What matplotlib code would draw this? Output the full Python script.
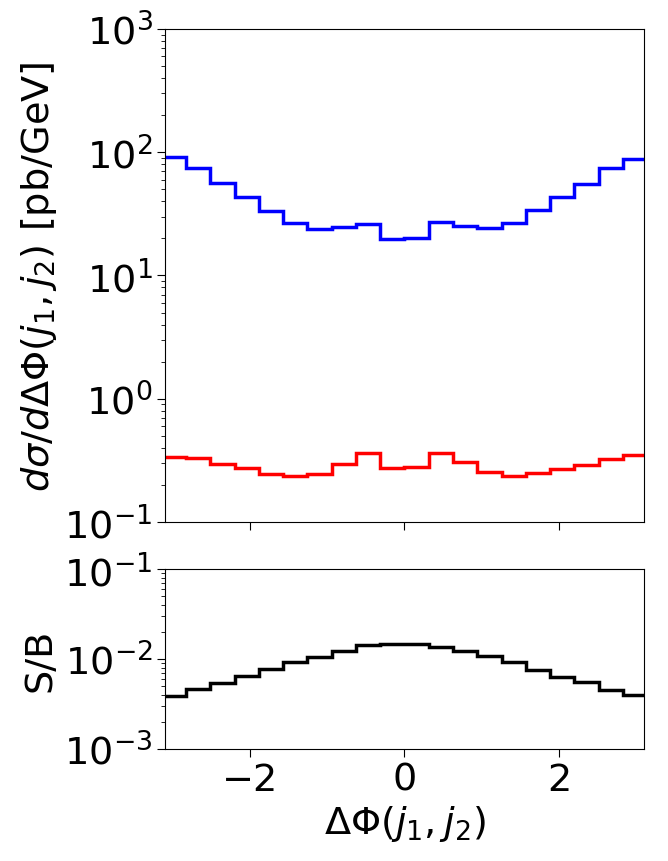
import numpy as np
import matplotlib
matplotlib.use("Agg")
import matplotlib.pyplot as plt

# bin edges in delta phi (20 bins over [-pi, pi])
edges = np.linspace(-np.pi, np.pi, 21)

# background (blue) and signal (red) cross sections, pb/GeV
background = [91.1, 74.2, 56.7, 43.6, 33.4, 26.7, 23.7, 24.9, 26.1, 19.9,
              20.2, 27.2, 25.3, 24.3, 26.9, 33.8, 43.6, 55.3, 74.2, 88.7]
signal = [0.337, 0.330, 0.293, 0.272, 0.246, 0.237, 0.245, 0.295, 0.363, 0.276,
          0.279, 0.363, 0.304, 0.253, 0.236, 0.251, 0.267, 0.292, 0.324, 0.349]
# signal over background ratio
s_over_b = [0.00392, 0.00464, 0.00537, 0.00641, 0.00768, 0.00919, 0.01062, 0.01219,
            0.01442, 0.01457, 0.01457, 0.01370, 0.01219, 0.01072, 0.00919, 0.00760,
            0.00636, 0.00555, 0.00453, 0.00401]

plt.rcParams['font.size'] = 27.5
plt.rcParams['xtick.major.size'] = 5.5
plt.rcParams['ytick.major.size'] = 5.5
plt.rcParams['ytick.minor.size'] = 3.0

fig = plt.figure(figsize=(6.68, 8.62), dpi=100)
ax_top = fig.add_axes([0.247, 0.3933, 0.717, 0.5719])
ax_bot = fig.add_axes([0.247, 0.1299, 0.717, 0.2088], sharex=ax_top)

ax_top.stairs(background, edges, color='blue', lw=2.5, baseline=None)
ax_top.stairs(signal, edges, color='red', lw=2.5, baseline=None)
ax_top.set_yscale('log')
ax_top.set_ylim(1e-1, 1e3)
ax_top.set_ylabel(r'$d\sigma/d\Delta\Phi(j_1,j_2)$ [pb/GeV]')
ax_top.tick_params(labelbottom=False)

ax_bot.stairs(s_over_b, edges, color='black', lw=2.5, baseline=None)
ax_bot.set_yscale('log')
ax_bot.set_ylim(1e-3, 1e-1)
ax_bot.set_ylabel('S/B')
ax_bot.set_xlabel(r'$\Delta\Phi(j_1,j_2)$')
ax_bot.set_xlim(-3.1, 3.1)
ax_bot.set_xticks([-2, 0, 2])

plt.savefig('out.png', dpi=100)
